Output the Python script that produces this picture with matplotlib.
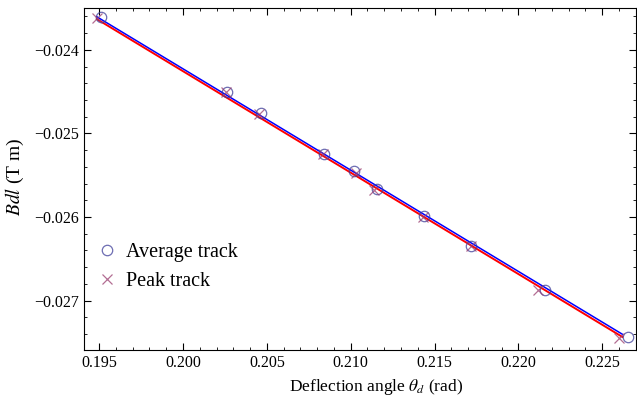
import numpy as np
import matplotlib
matplotlib.use("Agg")
import matplotlib.pyplot as plt
from matplotlib.ticker import MultipleLocator, FuncFormatter

plt.rcParams['font.family'] = ['Liberation Serif', 'DejaVu Serif']
plt.rcParams['mathtext.fontset'] = 'stix'

# deflection angle (rad) and Bdl (T m)
avg_theta = [0.19512, 0.20260, 0.20467, 0.20838, 0.21021, 0.21157, 0.21440, 0.21719, 0.22157, 0.22656]
avg_bdl = [-0.02361, -0.024505, -0.02475, -0.025243, -0.025454, -0.025664, -0.025991, -0.026342, -0.026876, -0.027432]
peak_theta = [0.19486, 0.20255, 0.20451, 0.20835, 0.21031, 0.21141, 0.21430, 0.21715, 0.22118, 0.22602]
peak_bdl = [-0.02362, -0.024510, -0.024765, -0.025250, -0.025473, -0.025680, -0.025999, -0.026350, -0.026876, -0.027444]

avg_color = (0.24, 0.24, 0.6)
peak_color = (0.6, 0.24, 0.44)

fig = plt.figure(figsize=(6.37, 4.0), dpi=100)
ax = fig.add_axes([0.132, 0.125, 0.866, 0.855])

# fits through the origin: Bdl = k * theta
ka = np.dot(avg_theta, avg_bdl) / np.dot(avg_theta, avg_theta)
kp = np.dot(peak_theta, peak_bdl) / np.dot(peak_theta, peak_theta)
xf = np.array([min(peak_theta), 0.2262])
ax.plot(xf, kp * xf, color='red', lw=1.4, zorder=2)
ax.plot(xf, ka * xf, color='blue', lw=1.1, zorder=3)

ax.plot(avg_theta, avg_bdl, 'o', mfc='none', mec=avg_color, ms=7.5, mew=0.9,
        alpha=0.75, label='Average track', zorder=4)
ax.plot(peak_theta, peak_bdl, 'x', color=peak_color, ms=6.5, mew=0.9,
        alpha=0.75, label='Peak track', zorder=4)

ax.set_xlim(0.1941, 0.2270)
ax.set_ylim(-0.02759, -0.0235)

fmt = FuncFormatter(lambda v, p: ('%.3f' % v).replace('-', '\u2212'))
ax.xaxis.set_major_locator(MultipleLocator(0.005))
ax.xaxis.set_minor_locator(MultipleLocator(0.001))
ax.yaxis.set_major_locator(MultipleLocator(0.001))
ax.yaxis.set_minor_locator(MultipleLocator(0.0002))
ax.xaxis.set_major_formatter(fmt)
ax.yaxis.set_major_formatter(fmt)

ax.tick_params(which='both', direction='in', top=True, right=True, labelsize=11.5)
ax.tick_params(which='major', length=5, width=0.8)
ax.tick_params(which='minor', length=2.5, width=0.6)

ax.set_xlabel(r'Deflection angle $\theta_d$ (rad)', fontsize=12.5)
ax.xaxis.set_label_coords(0.529, -0.08)
ax.set_ylabel(r'$Bdl$ (T m)', fontsize=14)
ax.yaxis.set_label_coords(-0.106, 0.505)

ax.legend(loc='center left', bbox_to_anchor=(0.009, 0.243), frameon=False,
          fontsize=14.5, borderaxespad=0, borderpad=0.4, handlelength=1.0,
          handletextpad=0.45, labelspacing=0.5)

fig.savefig('out.png', dpi=100)
